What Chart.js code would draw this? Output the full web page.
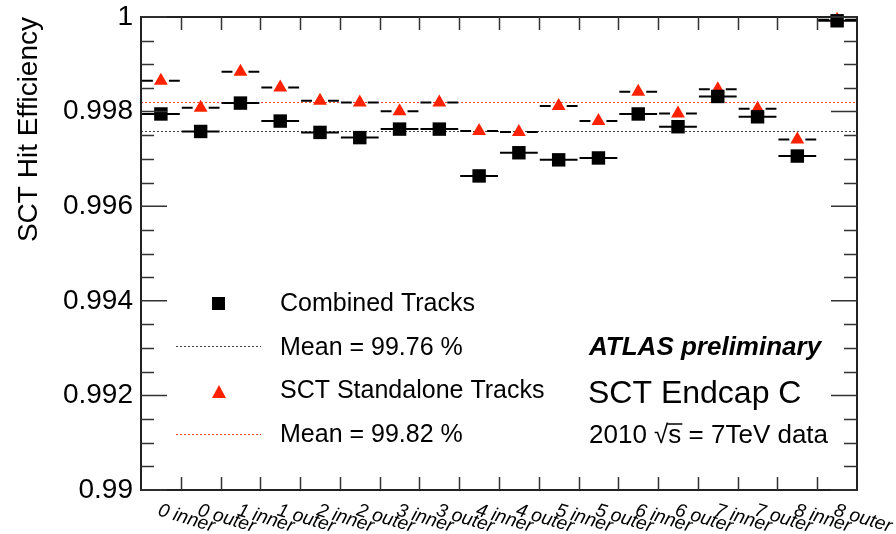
<!DOCTYPE html>
<html>
<head>
<meta charset="utf-8">
<script src="https://cdn.jsdelivr.net/npm/chart.js@4.4.0/dist/chart.umd.min.js"></script>
<style>
  html, body { margin: 0; padding: 0; background: #fff; }
  #wrap { width: 896px; height: 534px; }
</style>
</head>
<body>
<div id="wrap"><canvas id="myChart" width="896" height="534"></canvas></div>
<script>
// bins along x (SCT endcap C disks, inner / outer)
const categories = ['0 inner', '0 outer', '1 inner', '1 outer', '2 inner', '2 outer',
                    '3 inner', '3 outer', '4 inner', '4 outer', '5 inner', '5 outer',
                    '6 inner', '6 outer', '7 inner', '7 outer', '8 inner', '8 outer'];

const combined   = [0.99795, 0.99758, 0.99818, 0.99780, 0.99756, 0.99745,
                    0.99763, 0.99763, 0.99664, 0.99713, 0.99698, 0.99702,
                    0.99795, 0.99768, 0.99832, 0.99789, 0.99706, 0.99992];

const standalone = [0.99865, 0.99808, 0.99884, 0.99851, 0.99823, 0.99819,
                    0.99801, 0.99819, 0.99759, 0.99757, 0.99812, 0.99780,
                    0.99842, 0.99796, 0.99847, 0.99806, 0.99741, 0.99994];

const meanCombined = 0.9976;
const meanStandalone = 0.9982;

const yTicks = [0.99, 0.992, 0.994, 0.996, 0.998, 1];

const legendLabels = ['Combined Tracks', 'Mean = 99.76 %', 'SCT Standalone Tracks', 'Mean = 99.82 %'];

const FONT = '"Liberation Sans", Arial, Helvetica, sans-serif';
const RED = '#ff2200';

// ROOT-like frame, ticks, error bars, legend and labels
const rootStyle = {
  id: 'rootStyle',
  beforeDatasetsDraw(chart) {
    const { ctx, chartArea: a, scales: { x, y } } = chart;
    const half = (x.getPixelForValue(1) - x.getPixelForValue(0)) / 2 - 1;

    ctx.save();
    // mean lines
    ctx.lineWidth = 1;
    ctx.setLineDash([2, 2]);
    ctx.strokeStyle = '#444';
    let py = Math.round(y.getPixelForValue(meanCombined)) + 0.5;
    ctx.beginPath(); ctx.moveTo(a.left, py); ctx.lineTo(a.right, py); ctx.stroke();
    ctx.strokeStyle = '#ff4a2a';
    py = Math.round(y.getPixelForValue(meanStandalone)) + 0.5;
    ctx.beginPath(); ctx.moveTo(a.left, py); ctx.lineTo(a.right, py); ctx.stroke();
    ctx.setLineDash([]);

    // horizontal bin-width bars
    ctx.strokeStyle = '#000';
    ctx.lineWidth = 2;
    combined.forEach((v, i) => {
      const cx = x.getPixelForValue(i), cy = y.getPixelForValue(v);
      ctx.beginPath(); ctx.moveTo(cx - half, cy); ctx.lineTo(cx + half, cy); ctx.stroke();
    });
    standalone.forEach((v, i) => {
      const cx = x.getPixelForValue(i), cy = y.getPixelForValue(v);
      ctx.beginPath();
      ctx.moveTo(cx - half, cy); ctx.lineTo(cx - 8, cy);
      ctx.moveTo(cx + 8, cy); ctx.lineTo(cx + half, cy);
      ctx.stroke();
    });
    ctx.restore();
  },
  afterDatasetsDraw(chart) {
    const { ctx, chartArea: a, scales: { x, y } } = chart;
    ctx.save();

    // frame
    ctx.strokeStyle = '#222';
    ctx.lineWidth = 2;
    ctx.strokeRect(a.left, a.top, a.right - a.left, a.bottom - a.top);

    // x ticks at bin edges (inside, top and bottom)
    ctx.lineWidth = 1.5;
    ctx.strokeStyle = '#333';
    ctx.beginPath();
    for (let i = 1; i < categories.length; i++) {
      const ex = Math.round((x.getPixelForValue(i - 1) + x.getPixelForValue(i)) / 2) + 0.5;
      ctx.moveTo(ex, a.bottom); ctx.lineTo(ex, a.bottom - 13);
      ctx.moveTo(ex, a.top); ctx.lineTo(ex, a.top + 13);
    }
    // y ticks: majors and 4 subdivisions
    for (let k = 0; k < yTicks.length; k++) {
      const my = y.getPixelForValue(yTicks[k]);
      ctx.moveTo(a.left, my); ctx.lineTo(a.left + 26, my);
      ctx.moveTo(a.right, my); ctx.lineTo(a.right - 26, my);
      if (k < yTicks.length - 1) {
        for (let m = 1; m < 4; m++) {
          const v = yTicks[k] + (yTicks[k + 1] - yTicks[k]) * m / 4;
          const sy = Math.round(y.getPixelForValue(v)) + 0.5;
          ctx.moveTo(a.left, sy); ctx.lineTo(a.left + 13, sy);
          ctx.moveTo(a.right, sy); ctx.lineTo(a.right - 13, sy);
        }
      }
    }
    ctx.stroke();

    // x labels, slanted
    ctx.fillStyle = '#000';
    ctx.font = 'italic 19px ' + FONT;
    ctx.textAlign = 'left';
    ctx.textBaseline = 'alphabetic';
    categories.forEach((c, i) => {
      ctx.save();
      ctx.translate(x.getPixelForValue(i) - 4, a.bottom + 25);
      ctx.rotate(17 * Math.PI / 180);
      ctx.fillText(c, 0, 0);
      ctx.restore();
    });

    // legend
    ctx.textBaseline = 'middle';
    ctx.font = '25px ' + FONT;
    ctx.fillStyle = '#000';
    ctx.fillRect(212, 297, 13, 13);
    ctx.fillText(legendLabels[0], 280, 304);

    ctx.lineWidth = 1;
    ctx.setLineDash([2, 2]);
    ctx.strokeStyle = '#444';
    ctx.beginPath(); ctx.moveTo(176, 346.5); ctx.lineTo(261, 346.5); ctx.stroke();
    ctx.fillText(legendLabels[1], 280, 348);

    ctx.fillStyle = RED;
    ctx.beginPath();
    ctx.moveTo(219, 385); ctx.lineTo(226, 398); ctx.lineTo(212, 398); ctx.closePath();
    ctx.fill();
    ctx.fillStyle = '#000';
    ctx.fillText(legendLabels[2], 280, 391);

    ctx.strokeStyle = '#ff4a2a';
    ctx.beginPath(); ctx.moveTo(176, 434.5); ctx.lineTo(261, 434.5); ctx.stroke();
    ctx.setLineDash([]);
    ctx.fillText(legendLabels[3], 280, 435);

    // annotations
    ctx.font = 'italic bold 26px ' + FONT;
    ctx.fillText('ATLAS preliminary', 589, 348);
    ctx.font = '32px ' + FONT;
    ctx.fillText('SCT Endcap C', 588, 394);
    ctx.font = '26px ' + FONT;
    const pre = '2010 \u221A';
    ctx.fillText(pre + 's = 7TeV data', 589, 436);
    const sx = 589 + ctx.measureText(pre).width;
    const sw = ctx.measureText('s').width;
    ctx.lineWidth = 1.5;
    ctx.strokeStyle = '#000';
    ctx.beginPath(); ctx.moveTo(sx - 1, 424); ctx.lineTo(sx + sw + 1, 424); ctx.stroke();

    ctx.restore();
  }
};

new Chart(document.getElementById('myChart').getContext('2d'), {
  type: 'line',
  data: {
    labels: categories,
    datasets: [
      {
        label: 'Combined Tracks',
        data: combined,
        showLine: false,
        pointStyle: 'rect',
        pointRadius: 9.5,
        pointHoverRadius: 9.5,
        pointBackgroundColor: '#000',
        pointBorderWidth: 0,
        clip: false
      },
      {
        label: 'SCT Standalone Tracks',
        data: standalone,
        showLine: false,
        pointStyle: 'triangle',
        pointRadius: 8,
        pointHoverRadius: 8,
        pointBackgroundColor: RED,
        pointBorderWidth: 0,
        clip: false
      }
    ]
  },
  options: {
    responsive: false,
    devicePixelRatio: 1,
    animation: false,
    events: [],
    layout: { padding: { left: 0, top: 17, right: 39, bottom: 44 } },
    plugins: {
      legend: { display: false },
      tooltip: { enabled: false }
    },
    scales: {
      x: {
        type: 'category',
        offset: true,
        grid: { display: false, drawTicks: false },
        border: { display: false },
        ticks: { display: false },
        afterFit: (scale) => {
          scale.height = 0;
          scale.paddingLeft = 0;
          scale.paddingRight = 0;
        }
      },
      y: {
        min: 0.99,
        max: 1,
        afterBuildTicks: (scale) => { scale.ticks = yTicks.map(v => ({ value: v })); },
        afterFit: (scale) => {
          scale.width = 141;
          scale.paddingTop = 0;
          scale.paddingBottom = 0;
        },
        grid: { display: false, drawTicks: false },
        border: { display: false },
        ticks: {
          padding: 8,
          color: '#000',
          font: { family: FONT, size: 28 },
          callback: (v) => String(Number(v.toFixed(3)))
        },
        title: {
          display: true,
          text: 'SCT Hit Efficiency',
          align: 'end',
          color: '#000',
          font: { family: FONT, size: 28 },
          padding: { top: 12, bottom: 0 }
        }
      }
    }
  },
  plugins: [rootStyle]
});
</script>
</body>
</html>
